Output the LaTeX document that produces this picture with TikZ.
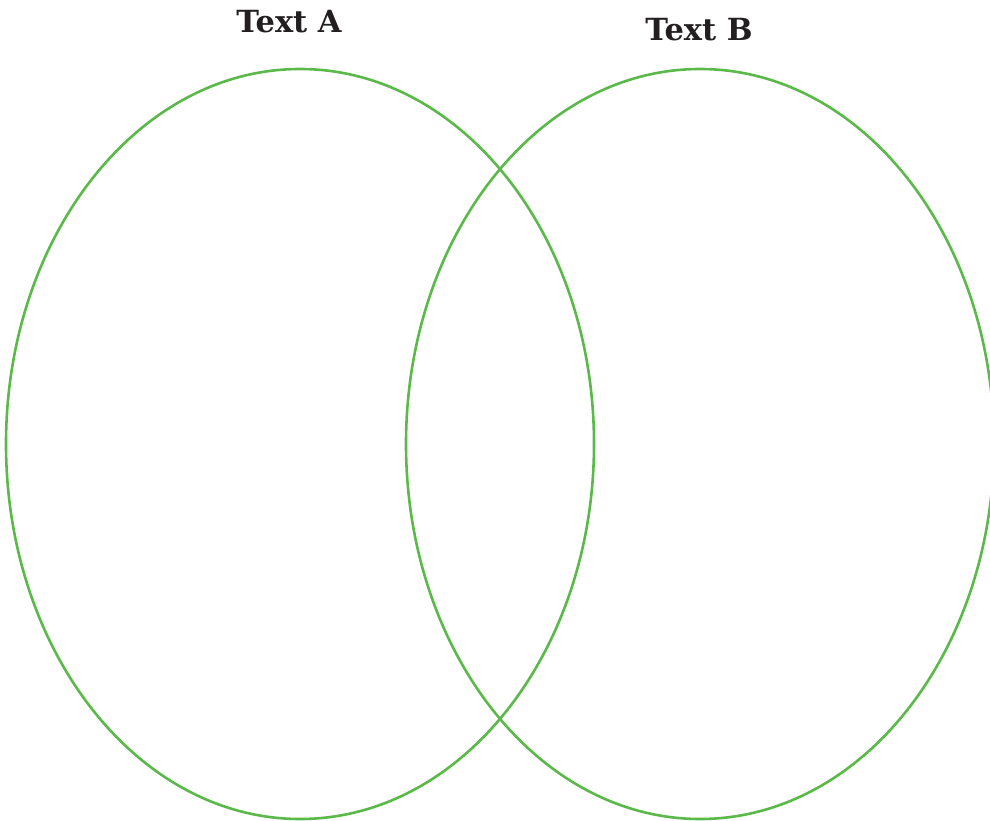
\documentclass[tikz,border=0pt]{standalone}
\usepackage{fontspec}
\setmainfont{DejaVu Serif}
\definecolor{venngreen}{HTML}{5BB94A}
\definecolor{labelink}{HTML}{231F20}
\begin{document}
\begin{tikzpicture}[x=1pt,y=-1pt,
  vennset/.style={draw=venngreen,line width=2.6pt},
  setlabel/.style={font=\bfseries\fontsize{30.5}{34}\selectfont,text=labelink,inner sep=0pt}]
\useasboundingbox (0,0) rectangle (990,821);
\draw[vennset] (300,444) ellipse [x radius=294, y radius=375];
\draw[vennset] (700,444) ellipse [x radius=294, y radius=375];
\node[setlabel] (labelA) at (289,22) {Text A};
\node[setlabel] (labelB) at (699,30) {Text B};
\end{tikzpicture}
\end{document}
